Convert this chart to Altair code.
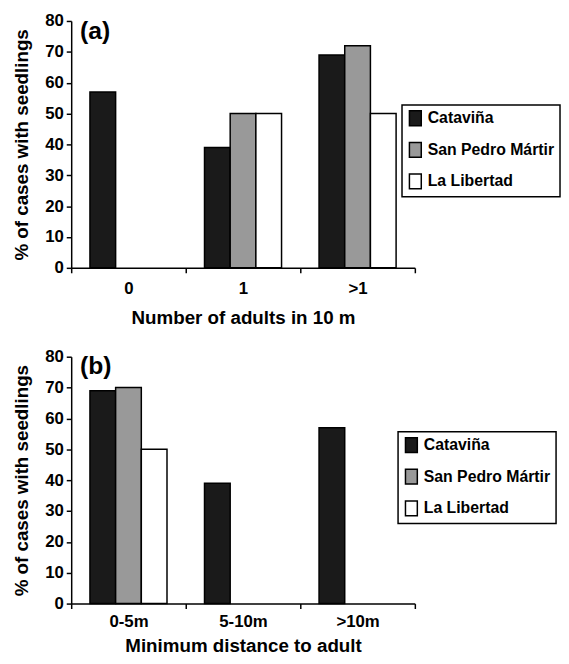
import altair as alt
import pandas as pd

sites = ["Cataviña", "San Pedro Mártir", "La Libertad"]
site_colors = ["#1a1a1a", "#999999", "#ffffff"]

# Panel (a): number of adults in 10 m
cats_a = ["0", "1", ">1"]
catavina_a = [57, 39, 69]
spm_a = [0, 50, 72]
ll_a = [0, 50, 50]

# Panel (b): minimum distance to adult
cats_b = ["0-5m", "5-10m", ">10m"]
catavina_b = [69, 39, 57]
spm_b = [70, 0, 0]
ll_b = [50, 0, 0]

FONT = "Liberation Sans"


def make_df(cats, series):
    rows = []
    for site, vals in zip(sites, series):
        for c, v in zip(cats, vals):
            rows.append({"cat": c, "site": site, "value": v})
    return pd.DataFrame(rows)


def panel(df, cats, xtitle, tag, lx, ly, h, lab_pad, title_pad):
    bars = alt.Chart(df).transform_filter("datum.value > 0").mark_bar(
        stroke="black", strokeWidth=1.5
    ).encode(
        x=alt.X("cat:N", sort=cats,
                scale=alt.Scale(domain=cats, paddingInner=0, paddingOuter=0),
                axis=alt.Axis(title=xtitle, labelAngle=0, tickBand="extent",
                              labelPadding=lab_pad, titlePadding=title_pad)),
        xOffset=alt.XOffset("site:N", sort=sites,
                            scale=alt.Scale(domain=sites, paddingInner=0, paddingOuter=0.73)),
        y=alt.Y("value:Q", scale=alt.Scale(domain=[0, 80]),
                axis=alt.Axis(title="% of cases with seedlings",
                              values=list(range(0, 81, 10)), grid=False,
                              labelPadding=3, titlePadding=13)),
        color=alt.Color("site:N",
                        scale=alt.Scale(domain=sites, range=site_colors),
                        legend=alt.Legend(title=None, orient="none",
                                          legendX=lx, legendY=ly,
                                          symbolType="M-0.8,-1H0.8V1H-0.8Z",
                                          symbolSize=225)),
    )
    label = alt.Chart(pd.DataFrame({"t": [tag]})).mark_text(
        align="left", baseline="middle", font=FONT, fontSize=25,
        fontWeight="bold", color="black"
    ).encode(text="t:N", x=alt.value(9), y=alt.value(10))
    return alt.layer(bars, label).properties(width=348, height=h)


pa = panel(make_df(cats_a, [catavina_a, spm_a, ll_a]), cats_a,
           "Number of adults in 10 m", "(a)", 335, 85, 250, 8, 12)
pb = panel(make_df(cats_b, [catavina_b, spm_b, ll_b]), cats_b,
           "Minimum distance to adult", "(b)", 331, 76, 250, 5, 8)

chart = alt.vconcat(pa, pb, spacing=21).resolve_scale(
    x="independent", color="independent"
).resolve_legend(color="independent").properties(
    padding={"left": 5, "top": 0, "right": 0, "bottom": 0}
).configure_view(stroke=None).configure_axis(
    labelFont=FONT, labelFontSize=17, labelFontWeight="bold", labelColor="black",
    titleFont=FONT, titleFontSize=19, titleFontWeight="bold", titleColor="black",
    domainColor="black", domainWidth=1.5, tickColor="black", tickWidth=1.5,
    tickSize=5,
).configure_legend(
    labelFont=FONT, labelFontSize=16, labelFontWeight="bold", labelColor="black",
    strokeColor="black", strokeWidth=1.5, padding=5, rowPadding=11,
    symbolStrokeColor="black", symbolStrokeWidth=1.5, labelOffset=4,
    symbolOpacity=1,
)

chart.save("out.html", embed_options={"renderer": "svg", "actions": False})
